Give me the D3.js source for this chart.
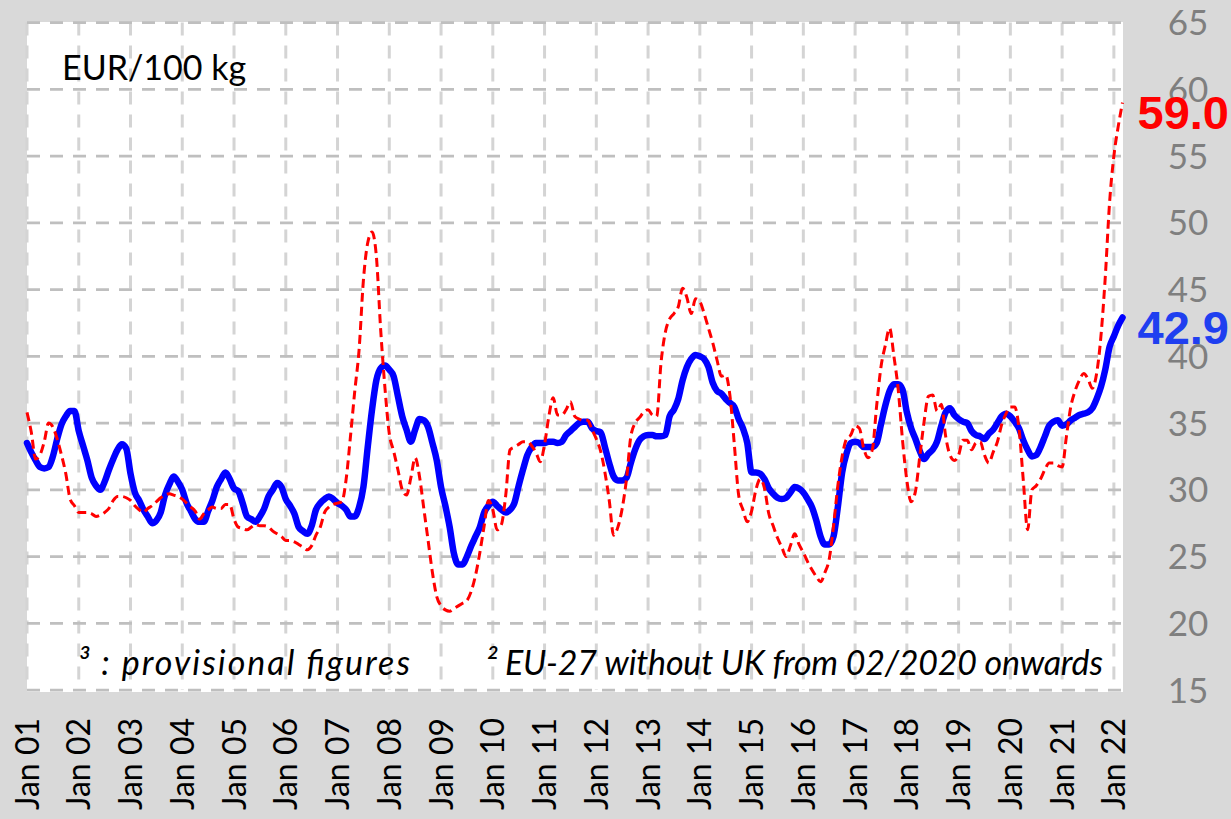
<!DOCTYPE html>
<html lang="en">
<head>
<meta charset="utf-8">
<title>EUR/100 kg</title>
<script src="https://d3js.org/d3.v7.min.js"></script>
<style>
  body { margin: 0; background: #d9d9d9; overflow: hidden; }
  svg { display: block; font-family: Lato, "Open Sans", sans-serif; }
</style>
</head>
<body>
<script>
// ---- data (monthly, Jan 2001 .. Mar 2022) ----
const tickLabels = ['Jan 01','Jan 02','Jan 03','Jan 04','Jan 05','Jan 06','Jan 07','Jan 08',
  'Jan 09','Jan 10','Jan 11','Jan 12','Jan 13','Jan 14','Jan 15','Jan 16','Jan 17','Jan 18',
  'Jan 19','Jan 20','Jan 21','Jan 22'];
const yTicks = [15, 20, 25, 30, 35, 40, 45, 50, 55, 60, 65];

// thick blue line
const solidSeries = [
  33.5, 32.8, 32.2, 31.7, 31.6, 31.7, 32.5, 33.8, 34.9, 35.5, 35.9, 35.9,
  34.4, 33.3, 32.2, 30.9, 30.3, 30.0, 30.6, 31.5, 32.3, 33.0, 33.4, 33.1,
  31.2, 29.8, 29.2, 28.5, 28.0, 27.5, 27.7, 28.3, 29.6, 30.4, 31.0, 30.6,
  30.0, 29.0, 28.4, 27.8, 27.6, 27.6, 28.4, 29.2, 30.2, 30.8, 31.3, 30.8,
  30.1, 29.9, 29.0, 28.0, 27.8, 27.6, 28.0, 28.6, 29.5, 30.0, 30.5, 30.2,
  29.3, 28.8, 28.2, 27.2, 26.9, 26.7, 27.3, 28.5, 29.0, 29.3, 29.5, 29.3,
  29.0, 28.8, 28.5, 28.0, 28.0, 28.7, 30.2, 33.2, 36.0, 38.2, 39.1, 39.3,
  39.0, 38.5, 37.0, 35.5, 34.5, 33.6, 34.5, 35.3, 35.2, 34.7, 33.5, 32.2,
  30.2, 28.8, 27.2, 25.2, 24.4, 24.4, 25.0, 25.8, 26.5, 27.2, 28.3, 28.8,
  29.1, 28.8, 28.5, 28.3, 28.5, 29.0, 30.3, 31.5, 32.6, 33.2, 33.5, 33.5,
  33.5, 33.6, 33.6, 33.5, 33.6, 34.1, 34.4, 34.7, 35.0, 35.1, 35.1, 34.6,
  34.4, 34.3, 33.2, 32.0, 31.0, 30.7, 30.7, 30.9, 32.0, 33.0, 33.7, 34.0,
  34.1, 34.1, 34.0, 34.0, 34.1, 35.5, 36.0, 36.8, 38.2, 39.2, 39.8, 40.1,
  40.0, 39.8, 39.2, 38.0, 37.4, 37.2, 36.8, 36.5, 36.2, 35.3, 34.6, 33.5,
  31.3, 31.3, 31.2, 30.8, 30.1, 29.7, 29.4, 29.3, 29.4, 29.8, 30.2, 30.1,
  29.8, 29.3, 28.7, 27.7, 26.5, 25.9, 25.9, 26.5, 28.7, 31.3, 32.7, 33.5,
  33.6, 33.5, 33.2, 33.2, 33.2, 33.5, 34.9, 36.3, 37.4, 37.9, 37.9, 37.5,
  35.8, 34.6, 33.8, 32.9, 32.3, 32.7, 33.0, 33.6, 34.8, 35.8, 36.1, 35.6,
  35.3, 35.1, 35.0, 34.4, 34.1, 34.0, 33.8, 34.2, 34.5, 35.0, 35.5, 35.7,
  35.5, 35.1, 34.6, 33.7, 33.0, 32.5, 32.6, 33.2, 34.0, 34.8, 35.1, 35.2,
  34.8, 34.9, 35.2, 35.4, 35.6, 35.7, 35.8, 36.1, 36.8, 37.7, 39.0, 40.7,
  41.5, 42.3, 42.9
];

// thin red dashed line
const dashedSeries = [
  35.8, 34.3, 32.3, 32.6, 33.6, 35.0, 34.7, 33.8, 32.6, 31.2, 29.3, 28.8,
  28.3, 28.3, 28.3, 28.2, 28.0, 28.1, 28.3, 28.6, 29.2, 29.5, 29.5, 29.4,
  29.2, 28.8, 28.5, 28.3, 28.6, 28.8, 29.1, 29.4, 29.6, 29.7, 29.6, 29.5,
  29.3, 29.0, 28.7, 28.4, 27.8, 28.2, 28.5, 28.7, 28.6, 28.6, 28.9, 28.9,
  27.8, 27.2, 27.1, 27.0, 27.2, 27.4, 27.3, 27.3, 27.2, 26.9, 26.7, 26.5,
  26.2, 26.2, 26.1, 25.9, 25.7, 25.5, 25.8, 26.6, 27.2, 28.3, 28.7, 28.9,
  29.0, 29.1, 30.8, 34.0, 37.4, 40.5, 45.7, 48.5, 49.3, 47.5, 42.0, 37.6,
  34.2, 32.9, 31.5, 30.0, 29.6, 30.9, 32.4, 31.0, 28.6, 26.2, 23.8, 22.0,
  21.3, 21.0, 20.9, 21.1, 21.3, 21.5, 21.7, 22.4, 23.6, 25.3, 27.3, 29.2,
  28.5, 27.0, 27.4, 29.6, 33.0, 33.2, 33.4, 33.6, 33.6, 33.3, 32.8, 32.1,
  33.4, 35.5, 36.9, 35.6, 35.6, 36.0, 36.6, 35.5, 35.3, 35.2, 35.2, 34.5,
  33.8, 32.9, 31.3, 29.2, 26.6, 27.2, 28.6, 30.8, 34.0, 35.0, 35.4, 35.8,
  36.0, 35.6, 35.5, 39.5, 41.8, 42.8, 43.2, 43.7, 45.1, 44.4, 43.2, 44.3,
  44.1, 43.2, 42.1, 41.0, 39.7, 38.5, 38.6, 37.0, 33.4, 29.6, 28.5, 27.6,
  28.4, 30.0, 30.8, 30.1, 28.2, 27.3, 26.4, 25.7, 25.0, 25.8, 26.7, 25.9,
  25.3, 24.6, 24.0, 23.5, 23.1, 23.8, 24.8, 27.3, 30.3, 32.5, 33.8, 34.1,
  34.8, 34.6, 33.1, 32.4, 33.0, 36.3, 39.2, 40.8, 42.1, 40.0, 37.5, 33.7,
  30.7, 29.1, 29.9, 32.5, 35.1, 37.0, 37.1, 35.9, 36.4, 34.0, 32.6, 32.2,
  32.6, 33.7, 33.7, 33.0, 33.5, 33.6, 32.6, 32.0, 32.8, 33.6, 34.9, 35.7,
  36.2, 36.2, 34.6, 30.7, 27.0, 30.0, 30.3, 30.8, 31.5, 32.0, 32.0, 31.8,
  31.7, 34.0, 36.2, 37.4, 38.2, 38.7, 38.3, 37.6, 38.7, 41.5, 45.9, 51.5,
  55.0, 57.2, 59.0
];

const unitLabel = 'EUR/100 kg';
const notes = ['\u00b3 : provisional figures', '\u00b2 EU-27 without UK from 02/2020 onwards'];

// ---- layout ----
const width = 1231, height = 819;
const plot = { left: 27, top: 22, right: 1123, bottom: 692 };

const svg = d3.select('body').append('svg')
    .attr('width', width)
    .attr('height', height);

svg.append('rect')
    .attr('width', width).attr('height', height)
    .attr('fill', '#d9d9d9');

svg.append('rect')
    .attr('x', plot.left).attr('y', plot.top)
    .attr('width', plot.right - plot.left)
    .attr('height', plot.bottom - plot.top)
    .attr('fill', '#fff');

const x = d3.scaleLinear()
    .domain([0, solidSeries.length - 1])
    .range([27, 1122.5]);

const y = d3.scaleLinear()
    .domain([15, 65])
    .range([690, 22.5]);

const tickMonths = tickLabels.map((_, i) => i * 12);

// vertical grid
svg.append('g')
  .selectAll('line')
  .data(tickMonths)
  .join('line')
    .attr('x1', d => x(d)).attr('x2', d => x(d))
    .attr('y1', y(65)).attr('y2', y(15))
    .attr('stroke', '#d4d4d4')
    .attr('stroke-width', 3)
    .attr('stroke-dasharray', '13,10');

// horizontal grid
svg.append('g')
  .selectAll('line')
  .data(yTicks)
  .join('line')
    .attr('x1', plot.left).attr('x2', plot.right)
    .attr('y1', d => y(d)).attr('y2', d => y(d))
    .attr('stroke', '#bfbfbf')
    .attr('stroke-width', 2.75)
    .attr('stroke-dasharray', '13,10');

// right axis labels
svg.append('g')
  .selectAll('text')
  .data(yTicks)
  .join('text')
    .attr('x', 1188)
    .attr('y', d => y(d))
    .attr('dy', '0.36em')
    .attr('text-anchor', 'middle')
    .attr('fill', '#7f7f7f')
    .style('font-size', '35px')
    .text(d => d);

// bottom axis labels, rotated
svg.append('g')
  .selectAll('text')
  .data(tickLabels)
  .join('text')
    .attr('transform', (d, i) => `translate(${x(tickMonths[i])},718) rotate(-90)`)
    .attr('dy', '0.36em')
    .attr('text-anchor', 'end')
    .attr('fill', '#000')
    .style('font-size', '32px')
    .text(d => d);

const line = d3.line()
    .x((d, i) => x(i))
    .y(d => y(d))
    .curve(d3.curveMonotoneX);

svg.append('path')
    .datum(solidSeries)
    .attr('d', line)
    .attr('fill', 'none')
    .attr('stroke', '#0000ff')
    .attr('stroke-width', 6.5)
    .attr('stroke-linejoin', 'round')
    .attr('stroke-linecap', 'round');

svg.append('path')
    .datum(dashedSeries)
    .attr('d', line)
    .attr('fill', 'none')
    .attr('stroke', '#ff0000')
    .attr('stroke-width', 3)
    .attr('stroke-dasharray', '9,5');

// end-of-line value labels
const fmt = d3.format('.1f');
[[dashedSeries, '#ff0000'], [solidSeries, '#1f3ff0']].forEach(([s, c]) => {
  const last = s.length - 1;
  svg.append('text')
      .attr('x', x(last) + 15)
      .attr('y', y(s[last]) + 26)
      .attr('fill', c)
      .style('font-family', '"Liberation Sans", Arial, sans-serif')
      .style('font-weight', 'bold')
      .style('font-size', '47px')
      .text(fmt(s[last]));
});

// unit + footnotes
svg.append('text')
    .attr('x', 62).attr('y', 80)
    .style('font-size', '34px')
    .text(unitLabel);

svg.append('text')
    .attr('x', 78).attr('y', 675)
    .attr('textLength', 332)
    .attr('lengthAdjust', 'spacing')
    .style('font-size', '34px')
    .style('font-style', 'italic')
    .text(notes[0]);

svg.append('text')
    .attr('x', 486).attr('y', 675)
    .attr('textLength', 617)
    .attr('lengthAdjust', 'spacing')
    .style('font-size', '34px')
    .style('font-style', 'italic')
    .text(notes[1]);
</script>
</body>
</html>
